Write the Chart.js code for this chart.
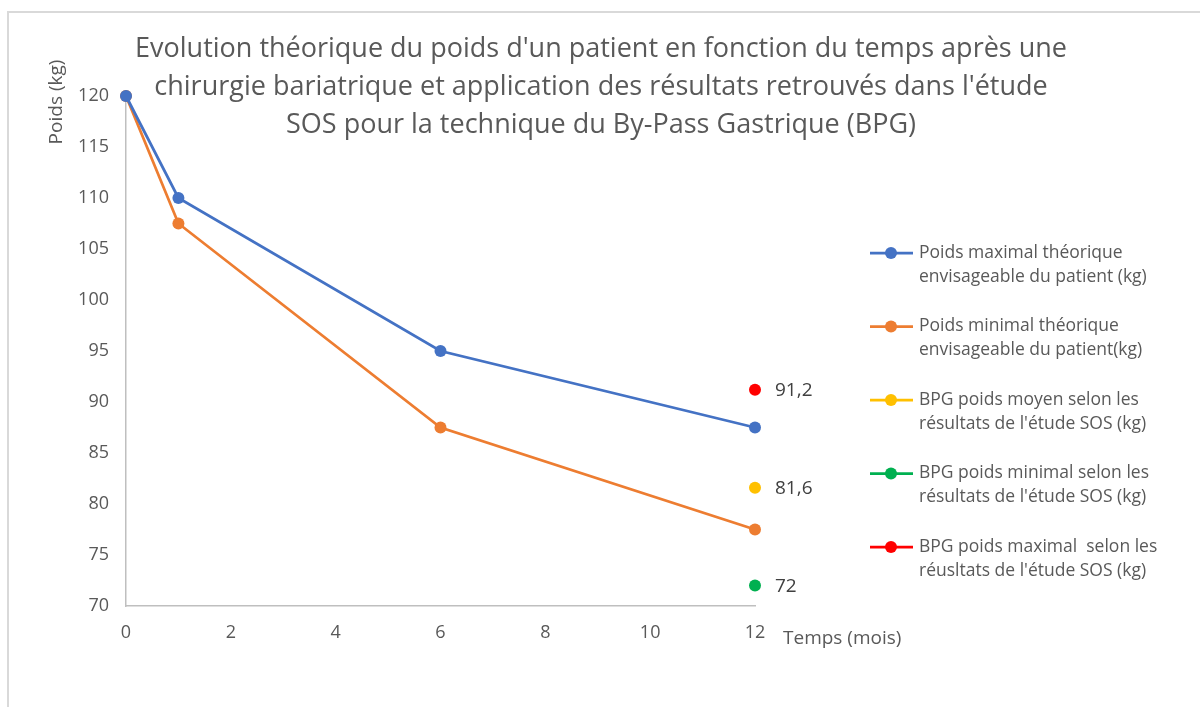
<!DOCTYPE html>
<html>
<head>
<meta charset="utf-8">
<script src="https://cdn.jsdelivr.net/npm/chart.js@4/dist/chart.umd.min.js"></script>
<style>
  html, body { margin: 0; padding: 0; background: #fff; }
  #wrap { width: 1200px; height: 707px; position: relative; }
</style>
</head>
<body>
<div id="wrap"><canvas id="poidsChart" width="1200" height="707"></canvas></div>
<script>
var titleLines = [
    "Evolution théorique du poids d'un patient en fonction du temps après une",
    "chirurgie bariatrique et application des résultats retrouvés dans l'étude",
    "SOS pour la technique du By-Pass Gastrique (BPG)"
];

var seriesNames = [
    ['Poids maximal théorique', 'envisageable du patient (kg)'],
    ['Poids minimal théorique', 'envisageable du patient(kg)'],
    ['BPG poids moyen selon les', "résultats de l'étude SOS (kg)"],
    ['BPG poids minimal selon les', "résultats de l'étude SOS (kg)"],
    ['BPG poids maximal  selon les', "réusltats de l'étude SOS (kg)"]
];
var seriesColors = ['#4472C4', '#ED7D31', '#FFC000', '#00B050', '#FF0000'];

var mois = [0, 1, 6, 12];
var poidsMax = [120, 110, 95, 87.5];
var poidsMin = [120, 107.5, 87.5, 77.5];

var moisSOS = 12;
var bpgMoyen = 81.6;
var bpgMin = 72;
var bpgMax = 91.2;

var xTicks = [0, 2, 4, 6, 8, 10, 12];
var yTicks = [70, 75, 80, 85, 90, 95, 100, 105, 110, 115, 120];

var FONT = '"Open Sans", "Noto Sans", sans-serif';
var GREY = '#595959';

function pts(xs, ys) {
    return xs.map(function(x, i) { return { x: x, y: ys[i] }; });
}

function serie(i, data, showLine, labelled) {
    return {
        label: seriesNames[i].join(' '),
        data: data,
        showLine: showLine,
        borderColor: seriesColors[i],
        backgroundColor: seriesColors[i],
        borderWidth: 2.75,
        pointRadius: 6,
        pointHoverRadius: 6,
        pointBorderWidth: 0,
        clip: false,
        labelled: labelled
    };
}

var decorPlugin = {
    id: 'decor',
    beforeDraw: function(chart) {
        var c = chart.ctx;
        c.save();
        c.strokeStyle = '#d9d9d9';
        c.lineWidth = 2;
        c.strokeRect(8, 12, 1300, 800);
        c.restore();
    },
    afterDraw: function(chart) {
        var c = chart.ctx;
        c.save();

        // titre
        c.fillStyle = GREY;
        c.textAlign = 'center';
        c.textBaseline = 'middle';
        c.font = '27px ' + FONT;
        titleLines.forEach(function(t, i) {
            c.fillText(t, 601, 49 + i * 38);
        });

        // titres des axes
        c.font = '19px ' + FONT;
        c.save();
        c.translate(57, 102);
        c.rotate(-Math.PI / 2);
        c.fillText('Poids (kg)', 0, 0);
        c.restore();
        c.textAlign = 'left';
        c.fillText('Temps (mois)', 783, 639);

        // étiquettes des points isolés
        c.fillStyle = '#404040';
        c.font = '19px ' + FONT;
        chart.data.datasets.forEach(function(ds, i) {
            if (!ds.labelled) return;
            var meta = chart.getDatasetMeta(i);
            meta.data.forEach(function(p, j) {
                var v = ds.data[j].y;
                c.fillText(String(v).replace('.', ','), p.x + 20, p.y + 1);
            });
        });

        // légende
        c.font = '17.5px ' + FONT;
        c.textBaseline = 'middle';
        var y0 = 253;
        seriesNames.forEach(function(lines, i) {
            var y = y0 + i * 73.5;
            c.strokeStyle = seriesColors[i];
            c.fillStyle = seriesColors[i];
            c.lineWidth = 2.75;
            c.beginPath();
            c.moveTo(870, y);
            c.lineTo(913, y);
            c.stroke();
            c.beginPath();
            c.arc(891, y, 6, 0, Math.PI * 2);
            c.fill();
            c.fillStyle = GREY;
            lines.forEach(function(l, k) {
                c.fillText(l, 919, y + k * 24);
            });
        });
        c.restore();
    }
};

var ctx = document.getElementById('poidsChart').getContext('2d');
var chart = new Chart(ctx, {
    type: 'scatter',
    data: {
        datasets: [
            serie(0, pts(mois, poidsMax), true, false),
            serie(1, pts(mois, poidsMin), true, false),
            serie(2, [{ x: moisSOS, y: bpgMoyen }], false, true),
            serie(3, [{ x: moisSOS, y: bpgMin }], false, true),
            serie(4, [{ x: moisSOS, y: bpgMax }], false, true)
        ]
    },
    options: {
        responsive: false,
        animation: false,
        layout: { padding: { left: 0, right: 445, top: 96, bottom: 0 } },
        plugins: {
            legend: { display: false },
            title: { display: false },
            tooltip: { enabled: false }
        },
        scales: {
            x: {
                type: 'linear',
                min: 0,
                max: 12,
                afterBuildTicks: function(s) { s.ticks = xTicks.map(function(v) { return { value: v }; }); },
                afterFit: function(s) { s.height = 101; },
                grid: { display: false, drawTicks: false },
                border: { display: true, color: '#bfbfbf', width: 1.5 },
                ticks: { color: GREY, padding: 16, font: { size: 18, family: FONT } }
            },
            y: {
                type: 'linear',
                min: 70,
                max: 120,
                afterBuildTicks: function(s) { s.ticks = yTicks.map(function(v) { return { value: v }; }); },
                afterFit: function(s) { s.width = 126; },
                grid: { display: false, drawTicks: false },
                border: { display: true, color: '#bfbfbf', width: 1.5 },
                ticks: { color: GREY, padding: 17, font: { size: 18, family: FONT } }
            }
        }
    },
    plugins: [decorPlugin]
});
</script>
</body>
</html>
